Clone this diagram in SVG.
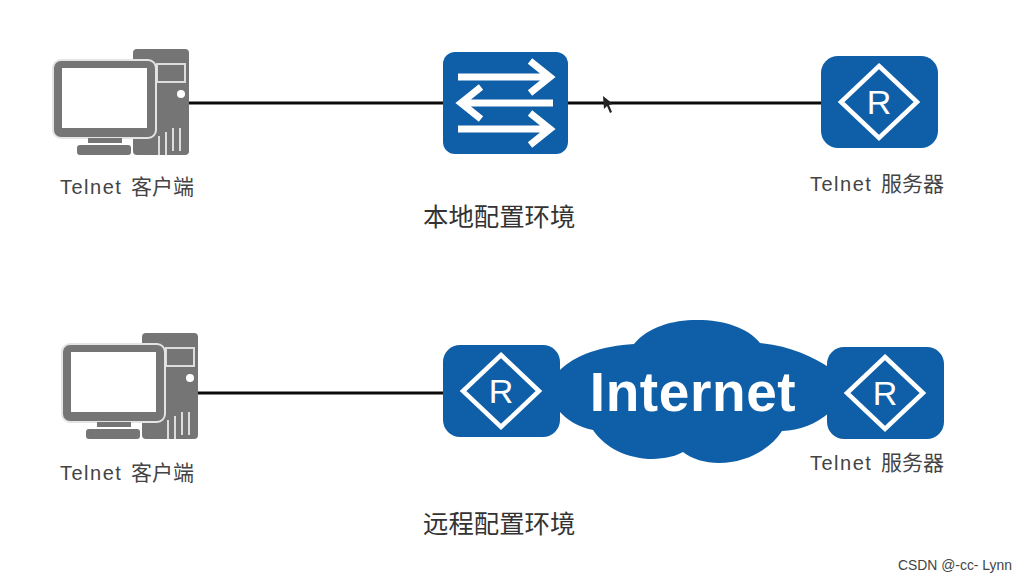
<svg xmlns="http://www.w3.org/2000/svg" width="1027" height="582" viewBox="0 0 1027 582">
<style>
.t{font-family:"Liberation Sans","Noto Sans CJK SC",sans-serif;fill:#444}
.lbl{font-size:20px;letter-spacing:1.5px}
.cj{font-size:21px;letter-spacing:0}
.cap{font-size:25.4px;fill:#333}
.wire{stroke:#0a0a0a;stroke-width:3;fill:none}
.blue{fill:#0f5fa8}
.wl{stroke:#fff;fill:none}
</style>
<defs>
<g id="router">
<rect x="-58" y="-46" width="117" height="92" rx="17" class="blue"/>
<path d="M0-36L38 0L0 36L-38 0Z" class="wl" stroke-width="4.5"/>
<text x="0" y="12" text-anchor="middle" font-family="Liberation Sans,sans-serif" font-size="34" fill="#fff">R</text>
</g>
<g id="pc">
<rect x="80" y="0" width="56" height="106" rx="4" fill="#757575"/>
<rect x="104" y="15" width="28" height="18" fill="none" stroke="#ddd" stroke-width="2"/>
<circle cx="128" cy="45" r="4" fill="#fff"/>
<path d="M106 87v19M113 83v23M120 79v23M127 79v23" stroke="#ddd" stroke-width="2" fill="none"/>
<rect x="0" y="11" width="103" height="78" rx="8" fill="#757575" stroke="#e4e4e4" stroke-width="2"/>
<rect x="9" y="19" width="85" height="60" fill="#fff"/>
<rect x="35" y="89" width="34" height="5" fill="#757575"/>
<rect x="24" y="96" width="54" height="10" rx="3" fill="#757575"/>
</g>
</defs>
<rect width="1027" height="582" fill="#fff"/>
<g id="connectors">
<path class="wire" d="M188 103H445"/>
<path class="wire" d="M566 103H823"/>
<path class="wire" d="M197 393H445"/>
</g>
<g id="client-local"><use href="#pc" x="53" y="49"/><text class="t lbl" x="60" y="194">Telnet <tspan class="cj" x="131">客户端</tspan></text></g>
<g id="switch">
<rect x="443" y="52" width="125" height="102" rx="12" class="blue"/>
<g class="wl" stroke-width="7">
<path d="M458 77H548M530 61L550 77L530 93"/>
<path d="M553 103H463M481 87L461 103L481 119"/>
<path d="M458 129H548M530 113L550 129L530 145"/>
</g>
</g>
<g id="server-local"><use href="#router" x="879" y="102"/><text class="t lbl" x="810" y="191">Telnet <tspan class="cj" x="881">服务器</tspan></text></g>
<g id="cursor"><path d="M603 96L604 109L607 106L610 113L612 112L609 105L613 104Z" fill="#222"/></g>
<text class="t cap" x="423" y="226">本地配置环境</text>
<g id="client-remote"><use href="#pc" x="62" y="333"/><text class="t lbl" x="60" y="480">Telnet <tspan class="cj" x="131">客户端</tspan></text></g>
<g id="cloud">
<path class="blue" d="M558 372C575 354 603 346 634 344C648 327 672 320 697 320C725 320 748 328 760 343C790 346 812 356 830 368V412C815 425 800 430 782 431C770 450 745 463 719 463C705 463 692 459 683 452C672 458 660 459 648 459C622 457 603 445 593 430C578 427 567 420 558 410Z"/>
<text x="693" y="411" text-anchor="middle" font-family="Liberation Sans,sans-serif" font-size="55" font-weight="700" letter-spacing=".6" fill="#fff">Internet</text>
</g>
<g id="router-remote"><use href="#router" x="501" y="391"/></g>
<g id="server-remote"><use href="#router" x="885" y="393"/><text class="t lbl" x="810" y="470">Telnet <tspan class="cj" x="881">服务器</tspan></text></g>
<text class="t cap" x="423" y="533">远程配置环境</text>
<text class="t" x="898" y="570" font-size="13.9" fill="#555">CSDN @-cc- Lynn</text>
</svg>
